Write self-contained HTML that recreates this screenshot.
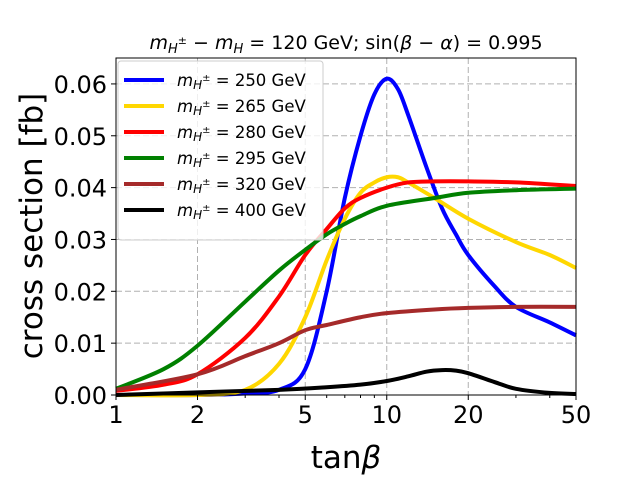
<!DOCTYPE html>
<html><head><meta charset="utf-8"><style>
body{margin:0;background:#fff}
svg text{font-family:"DejaVu Sans","Liberation Sans",sans-serif}
</style></head><body>
<svg id="chart" width="640" height="480" viewBox="0 0 640 480" xmlns="http://www.w3.org/2000/svg">
<g id="grid"></g>
<g id="curves"></g>
<rect x="116" y="58" width="460" height="337" fill="none" stroke="#000" stroke-width="1"/>
<g id="ticks"></g>
<text x="346" y="49" font-size="19" text-anchor="middle"><tspan font-style="italic">m</tspan><tspan font-style="italic" font-size="13" dy="4">H</tspan><tspan font-size="11" dy="-9">±</tspan><tspan dy="5"> − </tspan><tspan font-style="italic">m</tspan><tspan font-style="italic" font-size="13" dy="4">H</tspan><tspan dy="-4"> = 120 GeV; sin(</tspan><tspan font-style="italic">β</tspan><tspan> − </tspan><tspan font-style="italic">α</tspan><tspan>) = 0.995</tspan></text>
<text x="346" y="468" font-size="31" text-anchor="middle">tan<tspan font-style="italic">β</tspan></text>
<text transform="translate(42,226) rotate(-90)" font-size="31" text-anchor="middle">cross section [fb]</text>
<g id="legend">
<rect x="118" y="61" width="205" height="179" rx="3" fill="#fff" fill-opacity="0.8" stroke="#ccc"/>
</g>
</svg>
<script>
const xTicks=[1,2,5,10,20,50];
const yTicks=[0,0.01,0.02,0.03,0.04,0.05,0.06];
const yTickLabels=["0.00","0.01","0.02","0.03","0.04","0.05","0.06"];
const legendLabels=["250","265","280","295","320","400"];
const colors=["#0000ff","#ffd700","#ff0000","#008000","#a52a2a","#000000"];
const x250=[1,2,3,4,5,6,7,8,9,10,11,12,14,16,18,20,25,30,40,50];
const y250=[0,0,0.0003,0.001,0.005,0.02,0.038,0.05,0.058,0.061,0.059,0.054,0.044,0.036,0.031,0.027,0.021,0.017,0.014,0.0115];
const x265=[1,2,3,4,5,6,7,8,9,10,11,12,15,20,30,40,50];
const y265=[0,0,0.001,0.006,0.015,0.026,0.034,0.039,0.041,0.042,0.042,0.041,0.038,0.034,0.0295,0.027,0.0245];
const x280=[1,1.5,2,3,4,5,6,7,8,10,12,15,20,30,50];
const y280=[0.0008,0.002,0.004,0.011,0.019,0.027,0.032,0.036,0.038,0.040,0.041,0.0412,0.0412,0.041,0.0403];
const x295=[1,1.5,2,3,4,5,6,7,8,10,15,20,30,50];
const y295=[0.0012,0.005,0.0095,0.018,0.024,0.028,0.031,0.033,0.0345,0.0365,0.038,0.039,0.0395,0.0398];
const x320=[1,2,3,4,5,6,8,10,15,20,30,50];
const y320=[0.001,0.004,0.0075,0.010,0.0125,0.0135,0.015,0.0158,0.0165,0.0168,0.017,0.017];
const x400=[1,2,4,6,8,10,12,14,16,18,20,25,30,40,50];
const y400=[0,0.0005,0.001,0.0015,0.002,0.0027,0.0036,0.0045,0.0048,0.0047,0.0042,0.0025,0.0012,0.0004,0.0002];
const NS="http://www.w3.org/2000/svg";
const X=v=>116+Math.log10(v)/Math.log10(50)*460;
const Y=v=>395-v/0.065*337;
function mk(t,a,p){const e=document.createElementNS(NS,t);for(const k in a)e.setAttribute(k,a[k]);p.appendChild(e);return e;}
const grid=document.getElementById('grid'),ticks=document.getElementById('ticks'),curves=document.getElementById('curves'),legend=document.getElementById('legend');
xTicks.forEach(v=>{
 const g=mk('line',{x1:X(v),x2:X(v),y1:58,y2:395,stroke:'#b0b0b0','stroke-dasharray':'6,3'},grid);
 
 
 const t=mk('line',{x1:X(v),x2:X(v),y1:395,y2:400,stroke:'#000'},ticks);
 
 
 const l=mk('text',{x:X(v),y:423,'font-size':24,'text-anchor':'middle'},ticks);l.textContent=v;
 
 
});
[3,4,6,7,8,9,30,40].forEach(v=>{
 const t=mk('line',{x1:X(v),x2:X(v),y1:395,y2:398,stroke:'#000'},ticks);
 
 
});
yTicks.forEach((v,i)=>{
 const g=mk('line',{x1:116,x2:576,y1:Y(v),y2:Y(v),stroke:'#b0b0b0','stroke-dasharray':'6,3'},grid);
 
 
 const t=mk('line',{x1:111,x2:116,y1:Y(v),y2:Y(v),stroke:'#000'},ticks);
 
 
 const l=mk('text',{x:107,y:Y(v)+9,'font-size':24,'text-anchor':'end'},ticks);l.textContent=yTickLabels[i];
 
 
});
const series=[[x250,y250],[x265,y265],[x280,y280],[x295,y295],[x320,y320],[x400,y400]];
series.forEach((s,i)=>{
 const pts=s[0].map((x,j)=>[X(x),Y(s[1][j])]);
 let d='M'+pts[0][0]+','+pts[0][1];
 for(let j=0;j<pts.length-1;j++){
  const p0=pts[Math.max(0,j-1)],p1=pts[j],p2=pts[j+1],p3=pts[Math.min(pts.length-1,j+2)];
  d+=' C'+(p1[0]+(p2[0]-p0[0])/6)+','+(p1[1]+(p2[1]-p0[1])/6)+' '+(p2[0]-(p3[0]-p1[0])/6)+','+(p2[1]-(p3[1]-p1[1])/6)+' '+p2[0]+','+p2[1];
 }
 const p=mk('path',{d:d,fill:'none',stroke:colors[i],'stroke-width':4,'stroke-linejoin':'round'},curves);
 
 
 const ly=80+i*26;
 const ll=mk('line',{x1:124,x2:164,y1:ly,y2:ly,stroke:colors[i],'stroke-width':4},legend);
 
 
 const t=mk('text',{x:177,y:ly+6,'font-size':16.5},legend);
 
 
 t.innerHTML='<tspan font-style="italic">m</tspan><tspan font-style="italic" font-size="12" dy="3">H</tspan><tspan font-size="10" dy="-8">±</tspan><tspan dy="5"> = '+legendLabels[i]+' GeV</tspan>';
});
</script>
</body></html>
